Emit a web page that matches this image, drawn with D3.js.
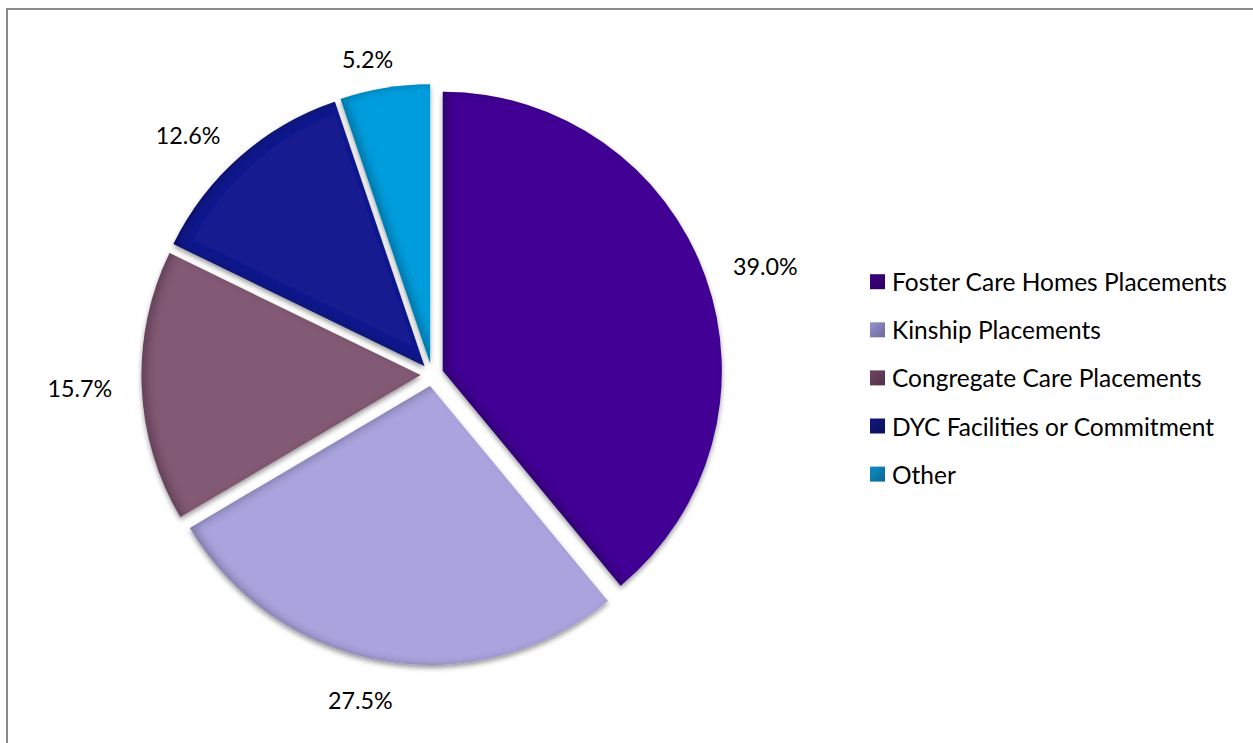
<!DOCTYPE html>
<html>
<head>
<meta charset="utf-8">
<script src="https://cdn.jsdelivr.net/npm/d3@7"></script>
<style>
  html, body { margin: 0; padding: 0; background: #ffffff; }
  svg { display: block; }
  text { font-family: Lato, "Open Sans", sans-serif; fill: #000; }
</style>
</head>
<body>
<svg id="chart" width="1253" height="743"></svg>
<script>
// Placement categories and their shares (percent)
const categories = [
  "Foster Care Homes Placements",
  "Kinship Placements",
  "Congregate Care Placements",
  "DYC Facilities or Commitment",
  "Other"
];
const shares = [39.0, 27.5, 15.7, 12.6, 5.2];
const sliceColors = ["#420094", "#aaa4de", "#835a75", "#141e8f", "#009ddd"];
const legendColors = ["#33006c", "#7d79ae", "#5c3a52", "#0e1468", "#0b77a6"];

const W = 1253, H = 743;
const cx = 432, cy = 374.6;
const radius = 279;
const explode = 11.5;
const labelRadius = 320;
const labelFont = 23.3;
const legendFont = 24.5;

const svg = d3.select("#chart");
const defs = svg.append("defs");

// Inner shading along slice edges plus a soft drop shadow beneath
const f = defs.append("filter").attr("id", "bevel")
  .attr("x", "-10%").attr("y", "-10%").attr("width", "120%").attr("height", "120%");
f.append("feOffset").attr("in", "SourceAlpha").attr("dx", 6).attr("dy", 0).attr("result", "off");
f.append("feGaussianBlur").attr("in", "off").attr("stdDeviation", 4).attr("result", "offBlur");
f.append("feComposite").attr("operator", "out").attr("in", "SourceAlpha").attr("in2", "offBlur").attr("result", "inverse");
f.append("feFlood").attr("flood-color", "#000").attr("flood-opacity", 0.45).attr("result", "shade");
f.append("feComposite").attr("operator", "in").attr("in", "shade").attr("in2", "inverse").attr("result", "innerShadow");
f.append("feOffset").attr("in", "SourceAlpha").attr("dx", 0).attr("dy", 3).attr("result", "dropOff");
f.append("feGaussianBlur").attr("in", "dropOff").attr("stdDeviation", 2.5).attr("result", "dropBlur");
f.append("feFlood").attr("flood-color", "#000").attr("flood-opacity", 0.4).attr("result", "dropColor");
f.append("feComposite").attr("operator", "in").attr("in", "dropColor").attr("in2", "dropBlur").attr("result", "drop");
const fm = f.append("feMerge");
fm.append("feMergeNode").attr("in", "drop");
fm.append("feMergeNode").attr("in", "SourceGraphic");
fm.append("feMergeNode").attr("in", "innerShadow");

// Legend swatch gradients
legendColors.forEach((c, i) => {
  const g = defs.append("linearGradient").attr("id", "lg" + i)
    .attr("x1", 0).attr("y1", 0).attr("x2", 1).attr("y2", 1);
  g.append("stop").attr("offset", "0%").attr("stop-color", d3.color(c).brighter(0.5));
  g.append("stop").attr("offset", "100%").attr("stop-color", d3.color(c).darker(0.4));
});

// Chart-area frame
svg.append("rect")
  .attr("x", 7).attr("y", 9).attr("width", W + 20).attr("height", H + 20)
  .attr("fill", "none").attr("stroke", "#8a8a8a").attr("stroke-width", 2);

const data = categories.map((c, i) => ({ name: c, value: shares[i], color: sliceColors[i] }));
const pie = d3.pie().sort(null).value(d => d.value).startAngle(0).endAngle(2 * Math.PI);
const arcs = pie(data);
const arc = d3.arc().innerRadius(0).outerRadius(radius);

const g = svg.append("g").attr("transform", `translate(${cx},${cy})`);

g.selectAll("path.slice")
  .data(arcs)
  .join("path")
  .attr("class", "slice")
  .attr("d", arc)
  .attr("fill", d => d.data.color)
  .attr("filter", "url(#bevel)")
  .attr("transform", d => {
    const a = (d.startAngle + d.endAngle) / 2;
    return `translate(${explode * Math.sin(a)},${-explode * Math.cos(a)})`;
  });

// Percentage labels just outside each slice, pushed sideways by the text width
// and a little further down for labels under the pie
const fmt = d3.format(".1f");
g.selectAll("text.lbl")
  .data(arcs)
  .join("text")
  .attr("class", "lbl")
  .attr("text-anchor", "middle")
  .attr("dominant-baseline", "central")
  .style("font-size", labelFont + "px")
  .text(d => fmt(d.data.value) + "%")
  .each(function(d) {
    const a = (d.startAngle + d.endAngle) / 2;
    const ux = Math.sin(a), uy = -Math.cos(a);
    const w = this.getComputedTextLength();
    const side = Math.sign(ux) * Math.min(1, Math.abs(ux) * 3) * w / 2;
    const drop = Math.max(0, uy) * 10;
    d3.select(this).attr("x", ux * labelRadius + side).attr("y", uy * labelRadius + drop);
  });

// Legend
const legend = svg.append("g").attr("transform", "translate(870,281.7)");
const rowH = 48.1;
const items = legend.selectAll("g.item")
  .data(categories)
  .join("g")
  .attr("class", "item")
  .attr("transform", (d, i) => `translate(0,${i * rowH})`);
items.append("rect")
  .attr("x", 0).attr("y", -7.5).attr("width", 15).attr("height", 15)
  .attr("fill", (d, i) => `url(#lg${i})`);
items.append("text")
  .attr("x", 22).attr("y", 0)
  .attr("dominant-baseline", "central")
  .style("font-size", legendFont + "px")
  .text(d => d);
</script>
</body>
</html>
